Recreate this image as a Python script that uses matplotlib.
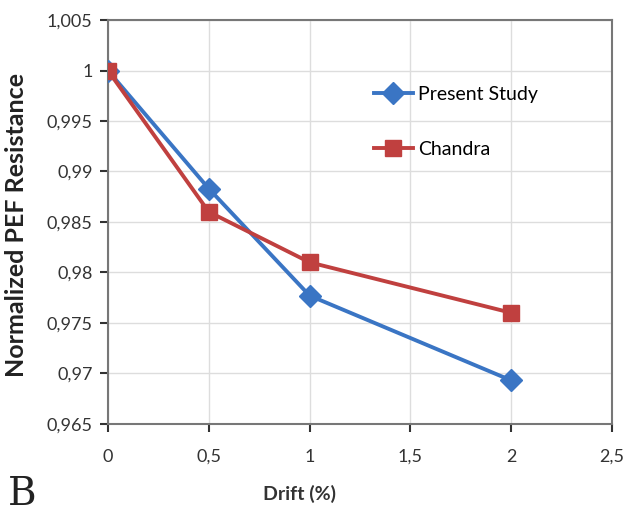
import matplotlib.pyplot as plt
from matplotlib.ticker import FuncFormatter

drift = [0, 0.5, 1, 2]
present_study = [1.0, 0.9883, 0.9777, 0.9693]
chandra = [1.0, 0.9860, 0.9810, 0.9760]

plt.rcParams['font.family'] = ['Lato', 'DejaVu Sans']

fig = plt.figure(figsize=(6.24, 5.15), dpi=100)
ax = fig.add_axes([0.173, 0.177, 0.808, 0.784])

ax.plot(drift, present_study, color="#3a75c4", lw=2.8, marker="D",
        ms=11, label="Present Study", zorder=3)
ax.plot(drift, chandra, color="#c0403f", lw=2.8, marker="s",
        ms=11, label="Chandra", zorder=3)

ax.set_xlim(0, 2.5)
ax.set_ylim(0.965, 1.005)
ax.set_xticks([0, 0.5, 1, 1.5, 2, 2.5])
ax.set_yticks([0.965, 0.97, 0.975, 0.98, 0.985, 0.99, 0.995, 1.0, 1.005])


def comma(v, pos):
    s = ("%.3f" % v).rstrip("0").rstrip(".")
    return s.replace(".", ",")


ax.xaxis.set_major_formatter(FuncFormatter(comma))
ax.yaxis.set_major_formatter(FuncFormatter(comma))
ax.tick_params(labelsize=13, colors="#333333", length=6, width=1.5,
               direction="out")
ax.tick_params(axis="x", pad=12)
ax.tick_params(axis="y", pad=5)
ax.grid(color="#dddddd", lw=1)
ax.set_axisbelow(True)
for s in ax.spines.values():
    s.set_color("#777777")
    s.set_linewidth(1.5)

ax.set_xlabel("Drift (%)", fontsize=14, fontweight="bold", color="#333333")
ax.xaxis.set_label_coords(0.38, -0.151)
ax.set_ylabel("Normalized PEF Resistance", fontsize=18, fontweight="bold",
              color="#222222")
ax.yaxis.set_label_coords(-0.159, 0.493)

ax.legend(loc="upper left", bbox_to_anchor=(0.492, 0.88), frameon=False,
          fontsize=14, labelspacing=1.95, handlelength=2.05, handletextpad=0.25)

fig.text(0.012, 0.004, "B", fontsize=28, family="DejaVu Serif",
         color="#222222", va="bottom")

fig.savefig("out.png", dpi=100)
